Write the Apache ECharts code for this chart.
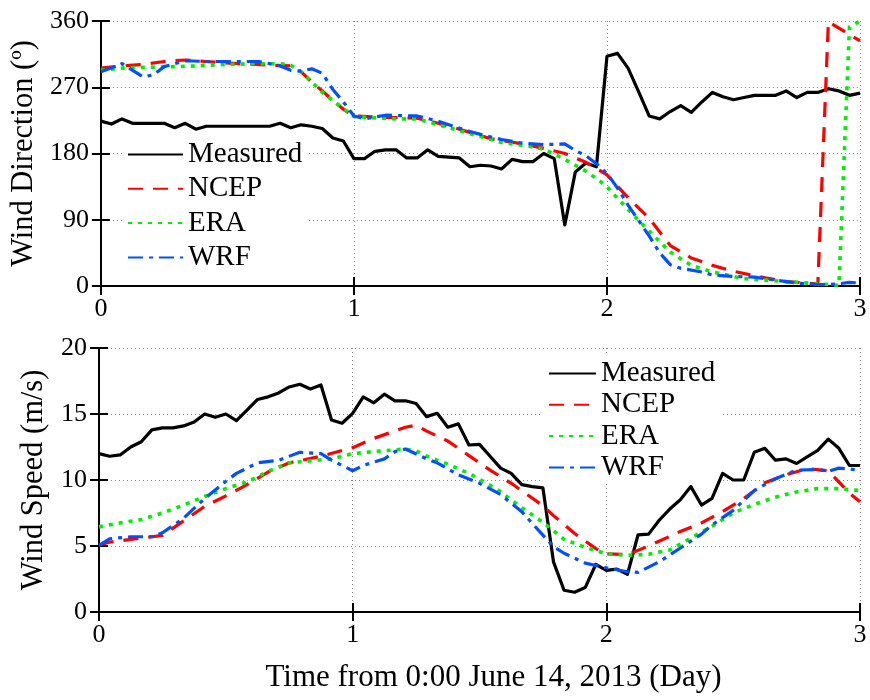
<!DOCTYPE html>
<html>
<head>
<meta charset="utf-8">
<script src="https://cdn.jsdelivr.net/npm/echarts@6/dist/echarts.min.js"></script>
<style>
  html, body { margin: 0; padding: 0; background: #fff; }
  #chart { width: 870px; height: 700px; }
</style>
</head>
<body>
<div id="chart"></div>
<script>
// Hourly station record, 0:00 June 14 2013 onward (73 samples)
const measuredDir = [224, 220, 227, 221, 221, 221, 221, 215, 221, 213, 217, 217, 217, 217, 217, 217, 217, 221, 215, 219, 217, 214, 201, 197,
  173, 173, 183, 185, 185, 174, 174, 185, 176, 175, 174, 162, 164, 163, 159, 172, 169, 169, 180, 173, 83, 155, 167, 162,
  312, 316, 296, 264, 231, 227, 237, 245, 236, 250, 263, 257, 253, 256, 259, 259, 259, 265, 256, 263, 263, 268, 265, 259, 262];
const measuredSpd = [12.0, 11.8, 11.9, 12.5, 12.9, 13.8, 13.95, 13.95, 14.1, 14.4, 15.0, 14.75, 15.0, 14.5, 15.3, 16.1, 16.3, 16.6, 17.05, 17.25, 16.9, 17.2, 14.55, 14.3,
  15.05, 16.3, 15.85, 16.5, 16.0, 16.0, 15.8, 14.8, 15.05, 14.0, 14.25, 12.65, 12.7, 11.8, 10.9, 10.5, 9.65, 9.5, 9.4, 3.8, 1.65, 1.5, 1.85, 3.6,
  3.15, 3.25, 2.85, 5.85, 5.9, 6.95, 7.8, 8.5, 9.5, 8.1, 8.6, 10.5, 10.0, 10.0, 12.1, 12.4, 11.5, 11.6, 11.25, 11.75, 12.25, 13.1, 12.4, 11.1, 11.1];

// Model output as [hour, value] pairs
const ncepDir = [[0, 296], [2, 299], [4, 301], [6, 305], [8, 307], [10, 305], [13, 302], [16, 300], [18, 299], [19, 291], [20, 277], [21, 265],
  [22, 252], [23, 240], [24, 231], [27, 229], [30, 228], [32, 221], [34, 213], [37, 200], [40, 193], [42, 187], [44, 180], [46, 168],
  [48, 151], [50, 120], [52, 92], [54, 55], [56, 38], [58, 28], [60, 20], [63, 11], [65, 6], [68, 3], [69, 359], [72, 333]];
const eraDir = [[0, 293], [2, 296], [4, 297], [7, 298], [9, 299], [12, 301], [15, 302], [17, 302], [18, 300], [19, 291], [20, 277], [21, 263],
  [22, 252], [23, 241], [24, 230], [28, 227], [30, 227], [33, 215], [36, 203], [38, 195], [41, 189], [42, 186], [44, 172], [46, 156],
  [47, 146], [48, 135], [49, 119], [51, 89], [54, 46], [56, 28], [58, 19], [61, 10], [63, 8], [66, 5], [68, 3], [70, 1], [71, 352], [72, 360]];
const wrfDir = [[0, 291], [2, 302], [4, 284], [5, 287], [6, 298], [8, 306], [10, 305], [12, 305], [15, 305], [17, 299], [18, 293], [19, 292],
  [20, 295], [21, 289], [22, 267], [23, 250], [24, 231], [25, 227], [27, 232], [30, 231], [32, 224], [33, 219], [35, 210], [36, 206],
  [38, 199], [40, 194], [42, 192], [44, 193], [45, 184], [46, 177], [47, 166], [48, 153], [49, 133], [50, 110], [52, 68], [53, 45],
  [54, 29], [55, 24], [57, 19], [58, 15], [60, 13], [62, 12], [64, 8], [66, 4], [68, 2], [69, 2], [70, 3], [71, 5], [72, 4]];

const ncepSpd = [[0, 5.05], [1, 5.3], [3, 5.5], [6, 5.8], [8, 6.9], [10, 8.0], [12, 8.8], [14, 9.65], [16, 10.6], [18, 11.3], [21, 11.8],
  [24, 12.45], [26, 13.15], [29, 14.0], [30, 14.15], [31, 13.7], [33, 12.95], [35, 11.85], [37, 10.75], [39, 9.75], [42, 8.05], [43, 7.3],
  [45, 5.95], [47, 4.8], [48, 4.4], [50, 4.35], [52, 5.0], [55, 6.1], [57, 6.75], [59, 7.6], [61, 8.6], [63, 9.8], [65, 10.4], [67, 10.85],
  [69, 10.7], [71, 9.0], [72, 8.35]];
const eraSpd = [[0, 6.45], [2, 6.75], [4, 7.0], [6, 7.5], [8, 8.1], [10, 8.75], [12, 9.35], [14, 9.85], [16, 10.65], [18, 11.3], [20, 11.45],
  [22, 11.6], [24, 12.0], [26, 12.15], [29, 12.35], [30, 12.2], [31, 11.8], [33, 11.2], [35, 10.5], [37, 9.6], [38, 9.1], [40, 7.9],
  [42, 6.8], [44, 5.5], [46, 4.9], [48, 4.4], [50, 4.3], [52, 4.37], [54, 4.7], [56, 5.6], [58, 6.5], [60, 7.5], [62, 8.15], [64, 8.7],
  [66, 9.1], [68, 9.35], [70, 9.35], [72, 9.2]];
const wrfSpd = [[0, 5.05], [1, 5.55], [3, 5.7], [5, 5.7], [6, 6.0], [8, 7.1], [10, 8.6], [12, 9.9], [13, 10.5], [15, 11.3], [17, 11.5],
  [19, 12.1], [21, 12.0], [22, 11.5], [24, 10.7], [25, 11.1], [27, 11.6], [28, 12.15], [29, 12.35], [31, 11.6], [32, 11.3], [34, 10.4],
  [36, 9.75], [38, 8.9], [40, 7.6], [41, 6.7], [43, 4.95], [44, 4.45], [46, 3.7], [48, 3.35], [50, 3.05], [51, 3.0], [53, 3.8], [55, 4.85],
  [57, 5.9], [58, 6.6], [60, 7.7], [62, 9.2], [64, 10.1], [66, 10.75], [68, 10.8], [69, 10.65], [70, 10.9], [72, 10.75]];

const seriesNames = ['Measured', 'NCEP', 'ERA', 'WRF'];
const dayTicks = [0, 1, 2, 3];
const dirTicks = [0, 90, 180, 270, 360];
const spdTicks = [0, 5, 10, 15, 20];
const xTitle = 'Time from 0:00 June 14, 2013 (Day)';
const dirTitle = 'Wind Direction (º)';
const spdTitle = 'Wind Speed (m/s)';

const FONT = '"Liberation Serif", "Times New Roman", serif';

// hours -> days
const hourly = arr => arr.map((v, i) => [i / 24, v]);
const pairs = arr => arr.map(p => [p[0] / 24, p[1]]);

const lineStyles = {
  Measured: { color: '#000000', width: 3.2, type: 'solid' },
  NCEP: { color: '#ff0000', width: 3.2, type: [15, 10] },
  ERA: { color: '#00ee00', width: 3.6, type: [4, 6] },
  WRF: { color: '#0050ff', width: 3.2, type: [15, 6, 4, 6] }
};

function mkSeries(name, data, xi, yi) {
  const ls = lineStyles[name];
  return {
    name, type: 'line', xAxisIndex: xi, yAxisIndex: yi, data,
    symbol: 'none', showSymbol: false, animation: false,
    color: ls.color,
    lineStyle: { color: ls.color, width: ls.width, type: ls.type, cap: 'butt', join: 'round' },
    clip: true
  };
}

const axisLineStyle = { show: true, lineStyle: { color: '#000', width: 2 } };
const tickIn = { show: true, inside: true, length: 9, lineStyle: { color: '#000', width: 2 } };
const gridDots = { show: true, lineStyle: { color: '#8a8a8a', width: 1, type: [1, 3] } };
const labelStyle = { color: '#000', fontFamily: FONT, fontSize: 26 };

function mainX(gi, withName) {
  return {
    type: 'value', gridIndex: gi, min: dayTicks[0], max: dayTicks[dayTicks.length - 1], interval: 1,
    position: 'bottom', axisLine: axisLineStyle, axisTick: tickIn, splitLine: gridDots,
    axisLabel: Object.assign({ margin: 10 }, labelStyle),
    name: withName ? xTitle : '', nameLocation: 'middle', nameGap: 50,
    nameTextStyle: { color: '#000', fontFamily: FONT, fontSize: 31, padding: [0, 0, 0, 28] }
  };
}
function boxX(gi) {
  return {
    type: 'value', gridIndex: gi, min: dayTicks[0], max: dayTicks[dayTicks.length - 1], interval: 1,
    position: 'top', axisLine: axisLineStyle, axisTick: tickIn, splitLine: { show: false }, axisLabel: { show: false }
  };
}
function mainY(gi, ticks, title, gap) {
  return {
    type: 'value', gridIndex: gi, min: ticks[0], max: ticks[ticks.length - 1], interval: ticks[1] - ticks[0],
    position: 'left', axisLine: axisLineStyle, axisTick: tickIn, splitLine: gridDots,
    axisLabel: Object.assign({ margin: 12 }, labelStyle),
    name: title, nameLocation: 'middle', nameGap: gap, nameRotate: 90,
    nameTextStyle: { color: '#000', fontFamily: FONT, fontSize: 30.5 }
  };
}
function boxY(gi, ticks) {
  return {
    type: 'value', gridIndex: gi, min: ticks[0], max: ticks[ticks.length - 1], interval: ticks[1] - ticks[0],
    position: 'right', axisLine: axisLineStyle, axisTick: tickIn, splitLine: { show: false }, axisLabel: { show: false }
  };
}

// Legend panel sits above the dotted grid but beneath the data lines
function legendAt(left, top, gap, width) {
  return {
    data: seriesNames, orient: 'vertical', left, top, itemGap: gap,
    itemWidth: width, itemHeight: 14, padding: [5, 5, 2, 5],
    backgroundColor: '#ffffff',
    selectedMode: false,
    z: 1,
    itemStyle: { opacity: 0 },
    textStyle: { color: '#000', fontFamily: FONT, fontSize: 29, lineHeight: 28 }
  };
}

const chart = echarts.init(document.getElementById('chart'), null, { renderer: 'canvas' });
chart.setOption({
  backgroundColor: '#ffffff',
  animation: false,
  grid: [
    { left: 99, right: 10, top: 21, height: 265 },
    { left: 99, right: 10, top: 348, height: 264 }
  ],
  legend: [legendAt(122, 135, 5.3, 55), legendAt(543, 354, 2.3, 47)],
  xAxis: [mainX(0, false), boxX(0), mainX(1, true), boxX(1)],
  yAxis: [mainY(0, dirTicks, dirTitle, 58), boxY(0, dirTicks), mainY(1, spdTicks, spdTitle, 50), boxY(1, spdTicks)],
  series: [
    mkSeries('Measured', hourly(measuredDir), 0, 0),
    mkSeries('NCEP', pairs(ncepDir), 0, 0),
    mkSeries('ERA', pairs(eraDir), 0, 0),
    mkSeries('WRF', pairs(wrfDir), 0, 0),
    mkSeries('Measured', hourly(measuredSpd), 2, 2),
    mkSeries('NCEP', pairs(ncepSpd), 2, 2),
    mkSeries('ERA', pairs(eraSpd), 2, 2),
    mkSeries('WRF', pairs(wrfSpd), 2, 2)
  ]
});
</script>
</body>
</html>
